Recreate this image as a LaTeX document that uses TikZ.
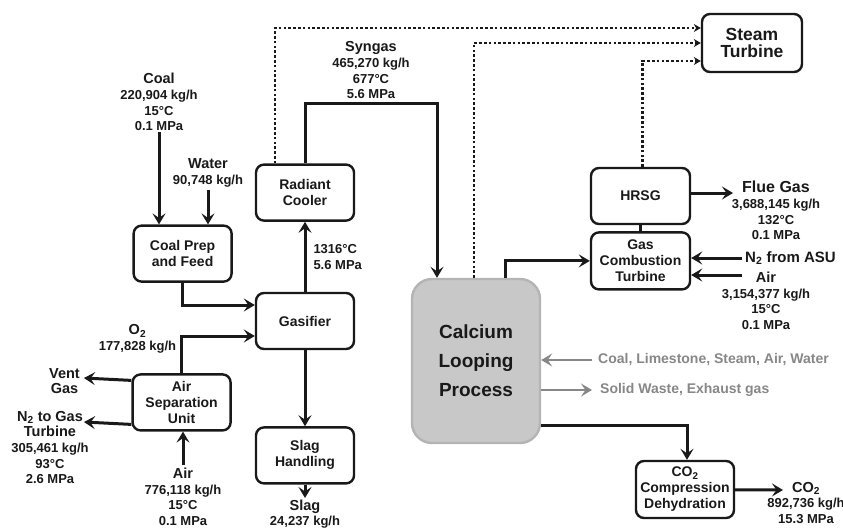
\documentclass[tikz,border=0pt]{standalone}
\usepackage{fontspec}
\setmainfont{Liberation Sans}
\usepackage{xcolor}
\usepackage{tikz}
\usetikzlibrary{arrows.meta, positioning}
\definecolor{loopgray}{RGB}{200, 200, 200}
\definecolor{sidegray}{RGB}{135, 135, 135}
\definecolor{inkdark}{RGB}{25, 25, 25}
\newcommand{\streamname}[1]{{\fontsize{14.5}{15.6}\selectfont #1}}

\begin{document}
\begin{tikzpicture}[x=1pt, y=-1pt, node distance=20pt and 20pt,
        box/.style={draw=inkdark, line width=2.4pt, rounded corners=8pt,
                    minimum width=98pt, minimum height=56pt, align=center,
                    text=inkdark, font=\fontsize{14}{16}\selectfont\bfseries},
        lbl/.style={align=center, inner sep=0pt, text=inkdark,
                    font=\fontsize{13}{15.6}\selectfont\bfseries},
        flow/.style={-{Stealth[length=11pt, width=13pt, inset=4.5pt]},
                     line width=3pt, inkdark},
        steam/.style={-{Stealth[length=7pt, width=8pt]}, line width=2.8pt,
                      dash pattern=on 2.6pt off 2.2pt, inkdark},
        side/.style={-{Stealth[length=11pt, width=13pt, inset=4.5pt]},
                     line width=2.6pt, sidegray}]
        \useasboundingbox (0,0) rectangle (843,531);

        % process units
        \node[box] (gasifier) at (305,321) {Gasifier};
        \node[box, above=70pt of gasifier] (cooler) {Radiant\\Cooler};
        \node[box, below=76pt of gasifier] (slag) {Slag\\Handling};
        \node[box, above left=9pt and 22pt of gasifier] (prep) {Coal Prep\\and Feed};
        \node[box, below left=23pt and 23pt of gasifier] (asu) {Air\\Separation\\Unit};
        \node[box, draw=loopgray!90!black, fill=loopgray, rounded corners=20pt,
              minimum width=128pt, minimum height=164pt,
              font=\fontsize{19}{29}\selectfont\bfseries] (clp) at (476,361)
              {Calcium\\Looping\\Process};
        \node[box, minimum width=100pt, minimum height=58pt,
              font=\fontsize{17.5}{17.5}\selectfont\bfseries] (turbine) at (752,43)
              {Steam\\Turbine};
        \node[box, minimum width=99pt] (hrsg) at (640.5,196) {HRSG};
        \node[box, minimum width=99pt, minimum height=57pt, below=6pt of hrsg] (gct)
              {Gas\\Combustion\\Turbine};
        \node[box, minimum height=57pt] (co2) at (685,489.5)
              {CO\textsubscript{2}\\Compression\\Dehydration};

        % free stream ends
        \coordinate (coalsrc) at (159,132);
        \coordinate (watersrc) at (208,190);
        \coordinate (ventend) at (84,378);
        \coordinate (n2end) at (84,422);
        \coordinate (airsrc) at (183,465);
        \coordinate (slagend) at (305,498);
        \coordinate (flueend) at (733,193);
        \coordinate (n2src) at (742,258);
        \coordinate (gctair) at (742,275);
        \coordinate (feedsrc) at (592,360);
        \coordinate (wasteend) at (592,390);
        \coordinate (co2end) at (783,490);

        % stream labels
        \node[lbl, above=1pt of coalsrc] (coallbl)
              {\streamname{Coal}\\220,904 kg/h\\15°C\\0.1 MPa};
        \node[lbl, above=3pt of watersrc] (waterlbl)
              {\streamname{Water}\\90,748 kg/h};
        \node[lbl, left=4pt of ventend, yshift=-3pt] (ventlbl)
              {\streamname{Vent}\\\streamname{Gas}};
        \node[lbl, anchor=north] (n2lbl) at ([xshift=-34pt, yshift=11pt]n2end)
              {\streamname{N\textsubscript{2} to Gas}\\\streamname{Turbine}\\
               305,461 kg/h\\93°C\\2.6 MPa};
        \node[lbl, below=3pt of airsrc] (airlbl)
              {\streamname{Air}\\776,118 kg/h\\15°C\\0.1 MPa};
        \node[lbl, below=2pt of slagend, font=\fontsize{13}{14.5}\selectfont\bfseries]
              (slaglbl) {\streamname{Slag}\\24,237 kg/h};
        \node[lbl, anchor=north] (fluelbl) at (776,181)
              {{\fontsize{16}{15.6}\selectfont Flue Gas}\\3,688,145 kg/h\\132°C\\0.1 MPa};
        \node[lbl, right=3pt of n2src, font=\fontsize{15}{16}\selectfont\bfseries]
              (n2asulbl) {N\textsubscript{2} from ASU};
        \node[lbl, anchor=north] (gctairlbl) at (766,272)
              {\streamname{Air}\\3,154,377 kg/h\\15°C\\0.1 MPa};
        \node[lbl, right=6pt of feedsrc, text=sidegray,
              font=\fontsize{14}{16}\selectfont\bfseries] (feedlbl)
              {Coal, Limestone, Steam, Air, Water};
        \node[lbl, right=8pt of wasteend, text=sidegray,
              font=\fontsize{14}{16}\selectfont\bfseries] (wastelbl)
              {Solid Waste, Exhaust gas};
        \node[lbl, anchor=north] (co2lbl) at (806,482)
              {\streamname{CO\textsubscript{2}}\\892,736 kg/h\\15.3 MPa};

        % main streams
        \draw[flow] (coalsrc) -- (coalsrc |- prep.north);
        \draw[flow] (watersrc) -- (watersrc |- prep.north);
        \draw[flow] (prep.south) |- ([yshift=16pt]gasifier.west);
        \draw[flow] (asu.north) |- ([yshift=-15pt]gasifier.west)
              node[lbl, pos=0.5, anchor=east, xshift=-4pt, yshift=-3pt]
              {\streamname{O\textsubscript{2}}\\177,828 kg/h};
        \draw[flow] ([yshift=22pt]asu.west) -- (ventend);
        \draw[flow] ([yshift=-22pt]asu.west) -- (n2end);
        \draw[flow] (airsrc) -- (airsrc |- asu.south);
        \draw[flow] (gasifier) -- (cooler)
              node[lbl, midway, right=7pt, align=left] {1316°C\\5.6 MPa};
        \draw[flow] (gasifier) -- (slag);
        \draw[flow] (slag) -- (slagend);
        \draw[flow] (cooler.north) -- ++(0,-60) -| ([xshift=-39pt]clp.north)
              node[lbl, pos=0.25, above=3pt]
              {\streamname{Syngas}\\465,270 kg/h\\677°C\\5.6 MPa};
        \draw[flow] ([xshift=29pt]clp.north) |- (gct.west);
        \draw[line width=3pt, inkdark] (hrsg) -- (gct);
        \draw[flow] ([yshift=3pt]hrsg.east) -- (flueend);
        \draw[flow] (n2src) -- (n2src -| gct.east);
        \draw[flow] (gctair) -- (gctair -| gct.east);
        \draw[flow] ([yshift=-64pt]clp.east) -| ([xshift=2pt]co2.north);
        \draw[flow] (co2) -- (co2end);

        % side streams of the looping process
        \draw[side] (feedsrc) -- (feedsrc -| clp.east);
        \draw[side] (clp.east |- wasteend) -- (wasteend);

        % steam to turbine
        \draw[steam] ([xshift=-30pt]cooler.north) |- ([yshift=15pt]turbine.west);
        \draw[steam] ([xshift=-2pt]clp.north) |- (turbine.west);
        \draw[steam] ([xshift=2pt]hrsg.north) |- ([yshift=-18pt]turbine.west);
    \end{tikzpicture}
\end{document}
